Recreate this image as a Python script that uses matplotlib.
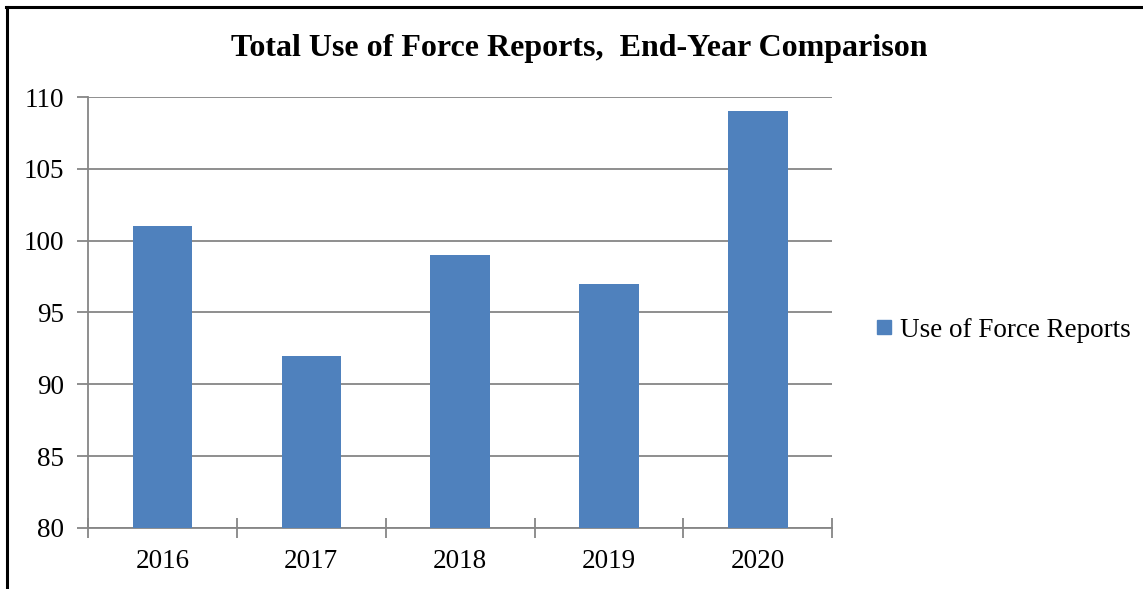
import matplotlib.pyplot as plt
from matplotlib.lines import Line2D

plt.rcParams['font.family'] = ['Liberation Serif', 'DejaVu Serif']

# Use of force reports per year
years = ['2016', '2017', '2018', '2019', '2020']
reports = [101, 92, 99, 97, 109]
y_ticks = [80, 85, 90, 95, 100, 105, 110]

bar_color = '#4F81BD'
grid_color = '#868686'

fig = plt.figure(figsize=(11.43, 5.89), dpi=100)
ax = fig.add_axes([0.077, 0.1036, 0.6512, 0.7317])

x = range(len(years))
ax.bar(x, reports, width=0.4, color=bar_color, zorder=3, label='Use of Force Reports')

ax.set_xlim(-0.5, len(years) - 0.5)
ax.set_ylim(80, 110)
ax.set_yticks(y_ticks)
ax.set_yticklabels([str(v) for v in y_ticks], fontsize=19.5)
ax.yaxis.grid(True, color=grid_color, linewidth=1.3, zorder=0)

# category labels in the middle, tick marks on the boundaries
ax.set_xticks([i - 0.5 for i in range(len(years) + 1)])
ax.set_xticklabels([''] * (len(years) + 1))
ax.set_xticks(list(x), minor=True)
ax.set_xticklabels(years, minor=True, fontsize=19.5)
ax.tick_params(axis='x', which='major', direction='inout', length=14,
               width=1.3, color=grid_color)
ax.tick_params(axis='x', which='minor', length=0, pad=15)
ax.tick_params(axis='y', direction='out', length=8, width=1.3,
               color=grid_color, pad=9)

for side in ['top', 'right']:
    ax.spines[side].set_visible(False)
for side in ['left', 'bottom']:
    ax.spines[side].set_color(grid_color)
    ax.spines[side].set_linewidth(1.3)

fig.text(0.507, 0.918, 'Total Use of Force Reports,  End-Year Comparison',
         ha='center', va='center', fontsize=23, fontweight='bold')

ax.legend(handles=[Line2D([], [], marker='s', linestyle='none', markersize=10.5,
                          color=bar_color, label='Use of Force Reports')],
          loc='center left', bbox_to_anchor=(1.018, 0.459), frameon=False,
          fontsize=19.5, handletextpad=0.1, handlelength=1.0)

# frame around the chart (left and top edges)
fig.add_artist(Line2D([0.0064, 0.0064], [0, 0.988], color='black', linewidth=2.2,
                      transform=fig.transFigure))
fig.add_artist(Line2D([0.005, 1.0], [0.988, 0.988], color='black', linewidth=2.2,
                      transform=fig.transFigure))

fig.savefig('out.png', dpi=100)
